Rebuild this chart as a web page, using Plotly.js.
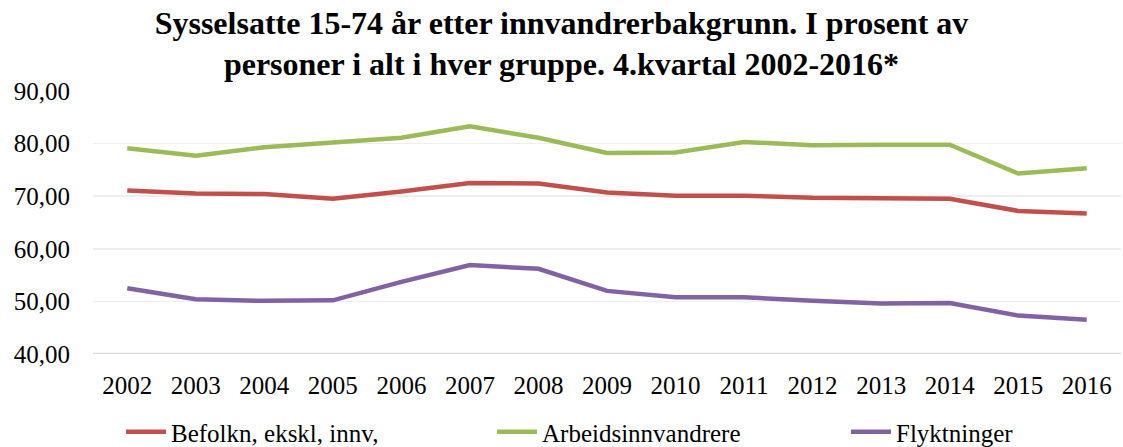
<!DOCTYPE html>
<html>
<head>
<meta charset="utf-8">
<script src="https://cdn.plot.ly/plotly-3.0.1.min.js"></script>
<style>html,body{margin:0;padding:0;background:#fff;}#chart{width:1123px;height:447px;}</style>
</head>
<body>
<div id="chart"></div>
<script>
const years = ['2002','2003','2004','2005','2006','2007','2008','2009','2010','2011','2012','2013','2014','2015','2016'];
const befolkn = [71.1, 70.5, 70.4, 69.5, 70.9, 72.5, 72.4, 70.7, 70.1, 70.1, 69.7, 69.5, 69.5, 67.2, 66.7];
const arbeid = [79.1, 77.7, 79.3, 80.3, 81.1, 83.3, 81.1, 78.2, 78.3, 80.3, 79.7, 79.8, 79.8, 74.3, 75.3];
const flykt = [52.5, 50.4, 50.1, 50.2, 53.7, 56.9, 56.2, 52.0, 50.8, 50.8, 50.1, 49.6, 49.7, 47.3, 46.5];
const seriesNames = ['Befolkn, ekskl, innv,', 'Arbeidsinnvandrere', 'Flyktninger'];
const yTicks = [40, 50, 60, 70, 80, 90];

const font = "'Liberation Serif', 'Times New Roman', serif";
const colors = ['#C0504D', '#9BBB59', '#8064A2'];
const legendIds = ['legend', 'legend2', 'legend3'];
const legendX = [121, 492, 846];
const data = [befolkn, arbeid, flykt].map((v, i) => ({
  x: years, y: v, type: 'scatter', mode: 'lines', name: seriesNames[i],
  line: {color: colors[i], width: 4.5}, hoverinfo: 'skip', legend: legendIds[i]
}));

const layout = {
  width: 1123, height: 447,
  margin: {l: 93, r: 2, t: 91, b: 93},
  paper_bgcolor: '#fff', plot_bgcolor: '#fff',
  separators: ', ',
  font: {family: font, color: '#000', size: 25},
  title: {
    text: '<b>Sysselsatte 15-74 år etter innvandrerbakgrunn. I prosent av<br>personer i alt i hver gruppe. 4.kvartal 2002-2016*</b>',
    font: {family: font, size: 32, color: '#000'},
    x: 0.5, xref: 'container', xanchor: 'center',
    y: 0.925, yref: 'container', yanchor: 'top'
  },
  xaxis: {
    type: 'category', range: [-0.5, 14.5],
    showgrid: false, zeroline: false,
    showline: false, ticks: '', ticklabelstandoff: 14,
    tickfont: {family: font, size: 25}
  },
  yaxis: {
    range: [40, 90], tickvals: yTicks, tickformat: '.2f',
    showgrid: true, gridcolor: '#eeeeee', gridwidth: 1.5,
    zeroline: false, showline: false, ticks: '', ticklabelstandoff: 22,
    tickfont: {family: font, size: 25}
  },
  shapes: [{type: 'line', xref: 'paper', yref: 'y', x0: 0, x1: 1, y0: 40, y1: 40, line: {color: '#d9d9d9', width: 2.5}}],
  showlegend: true
};
legendIds.forEach((id, i) => {
  layout[id] = {
    orientation: 'h', x: legendX[i] / 1123, xref: 'container', xanchor: 'left',
    y: 15 / 447, yref: 'container', yanchor: 'middle', itemwidth: 40,
    font: {family: font, size: 25}, bgcolor: 'rgba(0,0,0,0)'
  };
});
Plotly.newPlot('chart', data, layout, {displayModeBar: false, staticPlot: true});
</script>
</body>
</html>
